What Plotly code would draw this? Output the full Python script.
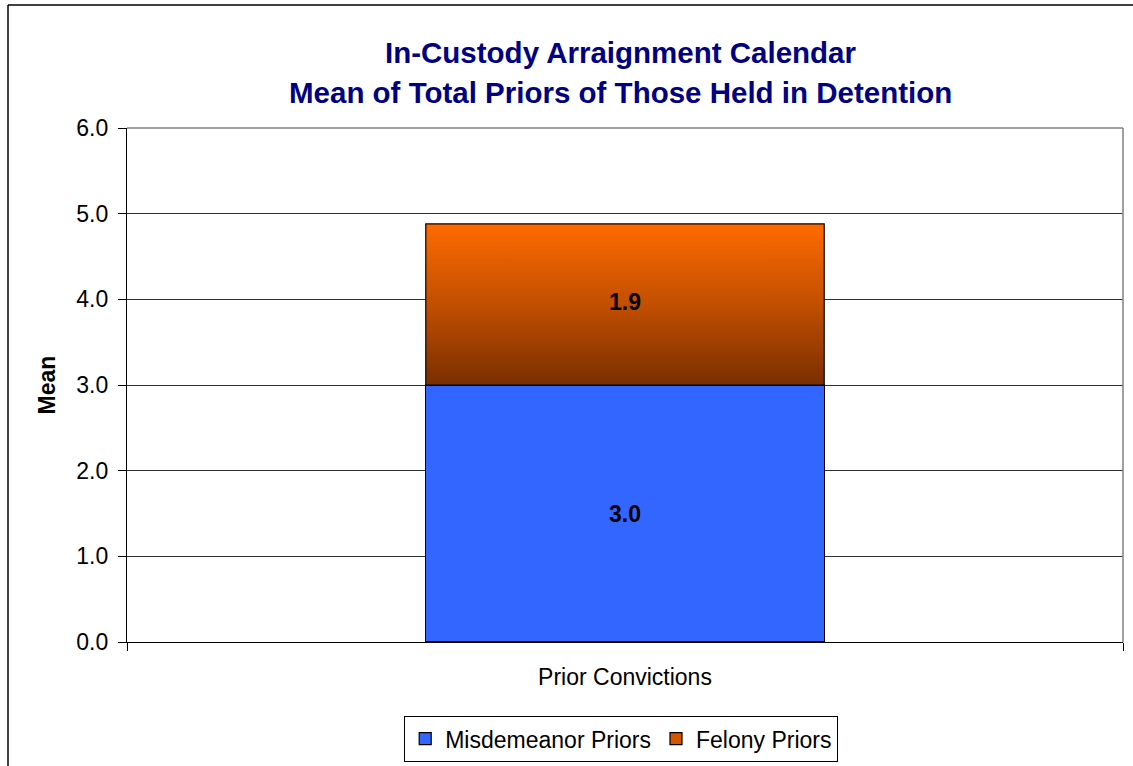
import plotly.graph_objects as go

categories = ["Prior Convictions"]
misdemeanor = [3.0]
felony = [1.88]
y_ticks = [0, 1, 2, 3, 4, 5, 6]
title_lines = ["In-Custody Arraignment Calendar",
               "Mean of Total Priors of Those Held in Detention"]

FONT = "Arial, Liberation Sans, sans-serif"
BAR_W = 1.0
pos = list(range(len(categories)))

fig = go.Figure()

# Misdemeanor bar
fig.add_trace(go.Bar(
    x=pos, y=misdemeanor, width=BAR_W, name="Misdemeanor Priors",
    marker=dict(color="#3366FF", line=dict(color="#000000", width=1.2)),
    texttemplate="%{y:.1f}", textposition="inside", insidetextanchor="middle",
    textfont=dict(family=FONT, size=23, color="#000000", weight="bold"),
    hoverinfo="skip",
))

# Felony bar (gradient), drawn as filled polygon from data
for p, base, val in zip(pos, misdemeanor, felony):
    xs = [p - BAR_W / 2, p + BAR_W / 2, p + BAR_W / 2, p - BAR_W / 2, p - BAR_W / 2]
    ys = [base, base, base + val, base + val, base]
    fig.add_trace(go.Scatter(
        x=xs, y=ys, mode="lines", fill="toself",
        fillgradient=dict(type="vertical",
                          colorscale=[[0, "#7a2e00"], [0.5, "#c24f00"], [1, "#ff6a00"]]),
        line=dict(color="#000000", width=1.2),
        showlegend=False, hoverinfo="skip",
    ))
    fig.add_trace(go.Scatter(
        x=[p], y=[base + val / 2], mode="text", text=[f"{val:.1f}"],
        textfont=dict(family=FONT, size=23, color="#000000", weight="bold"),
        showlegend=False, hoverinfo="skip",
    ))

# Legend entry for felony
fig.add_trace(go.Bar(
    x=pos, y=[None] * len(pos), name="Felony Priors",
    marker=dict(color="#d45600", line=dict(color="#000000", width=1.2)),
    hoverinfo="skip",
))

annotations = [
    dict(text=t, xref="paper", yref="paper", x=0.495, y=yy, xanchor="center", yanchor="middle",
         showarrow=False, font=dict(family=FONT, size=29.5, color="#000080", weight="bold"))
    for t, yy in zip(title_lines, [1 + 76 / 514, 1 + 36 / 514])
]

fig.update_layout(
    width=1133, height=766,
    margin=dict(l=127, r=10, t=128, b=124, autoexpand=False),
    paper_bgcolor="white", plot_bgcolor="white",
    barmode="stack",
    font=dict(family=FONT, size=23, color="#000000"),
    annotations=annotations,
    xaxis=dict(
        range=[-1.25, 1.25], tickvals=pos, ticktext=categories, ticks="",
        showline=True, linecolor="#000000", linewidth=1.2, showgrid=False, zeroline=False,
        tickfont=dict(family=FONT, size=23), ticklabelstandoff=14,
        minor=dict(tickvals=[-1.25, 1.25], ticks="outside", ticklen=8,
                   tickcolor="#000000", tickwidth=1.2, showgrid=False),
    ),
    yaxis=dict(
        range=[0, 6], tickvals=y_ticks, tickformat=".1f", ticks="outside", ticklen=8,
        tickcolor="#000000", tickwidth=1.2,
        showline=True, linecolor="#000000", linewidth=1.2,
        showgrid=True, gridcolor="#303030", gridwidth=1, zeroline=False,
        tickfont=dict(family=FONT, size=23), ticklabelstandoff=5,
        title=dict(text="<b>Mean</b>", font=dict(family=FONT, size=23), standoff=14),
    ),
    legend=dict(
        orientation="h", xref="container", yref="container",
        x=621 / 1133, xanchor="center", y=1 - 716 / 766, yanchor="top",
        bordercolor="#000000", borderwidth=1.2, bgcolor="white",
        font=dict(family=FONT, size=23), traceorder="normal",
        itemclick=False,
    ),
    showlegend=True,
    shapes=[
        dict(type="line", xref="paper", yref="paper", x0=0, x1=1, y0=1, y1=1,
             line=dict(color="#808080", width=1.5), layer="above"),
        dict(type="line", xref="paper", yref="paper", x0=1, x1=1, y0=0, y1=1,
             line=dict(color="#808080", width=1.5), layer="above"),
        dict(type="line", xref="paper", yref="paper",
             x0=-119 / 996, x1=-119 / 996, y0=-0.4, y1=1 + 123 / 514,
             line=dict(color="#000000", width=1.5), layer="above"),
        dict(type="line", xref="paper", yref="paper",
             x0=-119 / 996, x1=1.05, y0=1 + 123 / 514, y1=1 + 123 / 514,
             line=dict(color="#000000", width=1.5), layer="above"),
    ],
)

fig.write_html("out.html", config={"displayModeBar": False},
               post_script="document.body.style.margin='0';")
